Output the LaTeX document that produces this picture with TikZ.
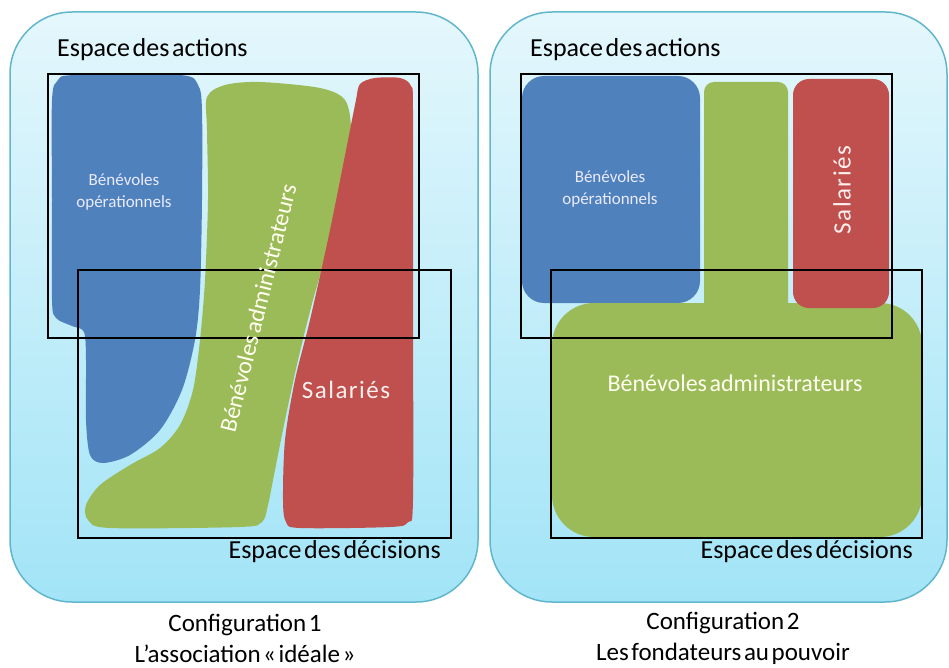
\documentclass[tikz,border=0pt]{standalone}
\usepackage{fontspec}
\setmainfont{Carlito}[WordSpace=0.45]
\usetikzlibrary{positioning}

\definecolor{panelline}{HTML}{62B6CC}
\definecolor{paneltop}{HTML}{E4F7FC}
\definecolor{panelbottom}{HTML}{A2E4F7}
\definecolor{opblue}{HTML}{4F81BD}
\definecolor{admgreen}{HTML}{9BBB59}
\definecolor{salred}{HTML}{C0504D}

\begin{document}
\begin{tikzpicture}
    [
        x=1pt, y=-1pt,
        panel/.style = {
            draw=panelline, line width=1.5pt, rounded corners=62pt,
            top color=paneltop, bottom color=panelbottom
        },
        space box/.style = {
            draw=black, line width=1.3pt
        },
        space label/.style = {
            inner sep=0pt, font=\fontsize{26}{28}\selectfont
        },
        group label/.style = {
            inner sep=0pt, text=white!94!yellow, font=\fontsize{24}{27}\selectfont
        },
        staff label/.style = {
            inner sep=0pt, text=white!94!red,
            font=\fontsize{25}{28}\selectfont\addfontfeature{LetterSpace=6}
        },
        small label/.style = {
            inner sep=0pt, align=center, text=white!92!blue,
            font=\fontsize{17}{22}\selectfont
        },
        caption/.style = {
            inner sep=0pt, align=center, font=\fontsize{25}{31}\selectfont
        },
    ]
    \useasboundingbox (0,0) rectangle (949,668);

    % panels
    \draw[panel] (10,12) rectangle (478,602);
    \draw[panel] (490,12) rectangle (947,602);

    % configuration 1
    \fill[opblue] plot[smooth cycle, tension=0.5] coordinates {
        (52,100) (58,80) (75,75) (180,75) (198,85) (202,110) (202,200)
        (200,290) (195,340) (182,390) (160,430) (130,455) (103,463)
        (90,455) (86,420) (86,360) (84,332) (72,326) (56,318) (52,300)
        (52,200)};
    \fill[admgreen] plot[smooth cycle, tension=0.5] coordinates {
        (207,97) (225,85) (260,82) (320,88) (345,100) (351,130) (345,170)
        (330,240) (313,300) (298,360) (285,420) (275,470) (268,505)
        (262,522) (240,527) (110,528) (88,520) (86,505) (100,485)
        (130,465) (160,448) (180,425) (193,390) (200,340) (205,280)
        (208,200) (207,130)};
    \fill[salred] plot[smooth cycle, tension=0.5] coordinates {
        (356,100) (360,84) (375,78) (400,78) (411,86) (413,110) (413,300)
        (413,500) (408,522) (390,527) (300,528) (286,522) (283,500)
        (285,440) (295,380) (310,320) (330,230) (350,130)};
    \draw[space box] (48,74) rectangle (419,338);
    \draw[space box] (78,270) rectangle (451,538);

    \node[space label, anchor=west] (actions1) at (57,50) {Espace des actions};
    \node[space label, anchor=east] (decisions1) at (441,552) {Espace des décisions};
    \node[small label] (operational1) at (124,192) {Bénévoles\\opérationnels};
    \node[group label, rotate=76] (admins1) at (258,308) {Bénévoles administrateurs};
    \node[staff label] (staff1) at (346,390) {Salariés};
    \node[caption] (config1) at (245,638) {Configuration 1\\L’association «~idéale~»};

    % configuration 2
    \fill[opblue, rounded corners=22pt] (522,76) rectangle (700,303);
    \fill[admgreen, rounded corners=10pt] (704,82) rectangle (788,320);
    \fill[admgreen, rounded corners=42pt] (552,303) rectangle (922,537);
    \fill[salred, rounded corners=16pt] (793,79) rectangle (889,308);
    \draw[space box] (521,74) rectangle (892,338);
    \draw[space box] (551,270) rectangle (922,538);

    \node[space label, anchor=west] (actions2) at (530,50) {Espace des actions};
    \node[space label, anchor=east] (decisions2) at (913,552) {Espace des décisions};
    \node[small label] (operational2) at (610,189) {Bénévoles\\opérationnels};
    \node[staff label, rotate=90] (staff2) at (842,190) {Salariés};
    \node[group label] (admins2) at (735,383) {Bénévoles administrateurs};
    \node[caption] (config2) at (723,638) {Configuration 2\\Les fondateurs au pouvoir};
\end{tikzpicture}
\end{document}
